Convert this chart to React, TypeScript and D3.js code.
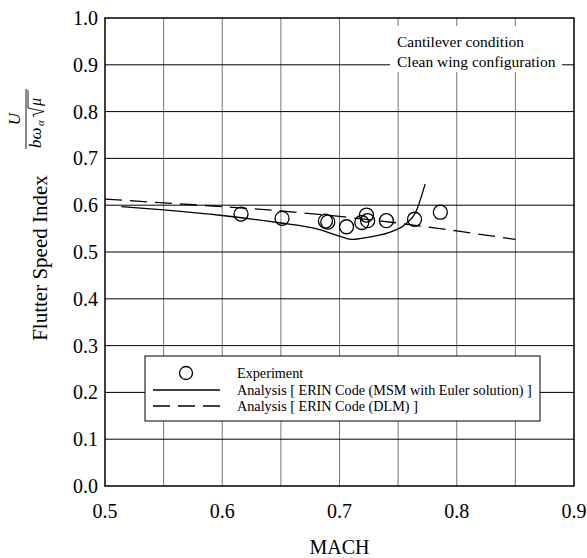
import React from "react";
import * as d3 from "d3";

const xTicks = [0.5, 0.6, 0.7, 0.8, 0.9];
const xGrid = [0.55, 0.6, 0.65, 0.7, 0.75, 0.8, 0.85];
const yTicks = [0.0, 0.1, 0.2, 0.3, 0.4, 0.5, 0.6, 0.7, 0.8, 0.9, 1.0];

const expMach = [0.616, 0.651, 0.688, 0.690, 0.706, 0.719, 0.723, 0.724, 0.740, 0.764, 0.786];
const expIndex = [0.581, 0.572, 0.566, 0.564, 0.554, 0.563, 0.579, 0.567, 0.567, 0.570, 0.585];

const msmMach = [0.514, 0.55, 0.6, 0.65, 0.68, 0.7, 0.71, 0.725, 0.745, 0.757, 0.765, 0.773];
const msmIndex = [0.597, 0.590, 0.578, 0.562, 0.550, 0.534, 0.527, 0.532, 0.544, 0.561, 0.585, 0.645];

const dlmMach = [0.5, 0.6, 0.65, 0.7, 0.75, 0.8, 0.85];
const dlmIndex = [0.613, 0.597, 0.588, 0.576, 0.562, 0.545, 0.527];

const legendLabels = [
  "Experiment",
  "Analysis [ ERIN Code (MSM with Euler solution) ]",
  "Analysis [ ERIN Code (DLM) ]",
];
const noteLines = ["Cantilever condition", "Clean wing configuration"];

const W = 587, H = 558;
const L = 105, R = 574, T = 18, B = 486;
const FF = "Liberation Serif, DejaVu Serif, serif";

export default function App() {
  const x = d3.scaleLinear().domain([0.5, 0.9]).range([L, R]);
  const y = d3.scaleLinear().domain([0, 1]).range([B, T]);
  const line = d3.line<[number, number]>().x(d => x(d[0])).y(d => y(d[1]));
  const smooth = d3.line<[number, number]>().x(d => x(d[0])).y(d => y(d[1])).curve(d3.curveMonotoneX);
  const msm = msmMach.map((m, i) => [m, msmIndex[i]] as [number, number]);
  const dlm = dlmMach.map((m, i) => [m, dlmIndex[i]] as [number, number]);

  return (
    <svg width={W} height={H} style={{ position: "absolute", left: 0, top: 0, background: "#fff" }} fontFamily={FF}>
      {xGrid.map(v => (
        <line key={"xg" + v} x1={x(v)} x2={x(v)} y1={T} y2={B} stroke="#777" strokeWidth={1} />
      ))}
      {yTicks.slice(1, -1).map(v => (
        <line key={"yg" + v} x1={L} x2={R} y1={y(v)} y2={y(v)} stroke="#000" strokeWidth={1} />
      ))}
      <rect x={L} y={T} width={R - L} height={B - T} fill="none" stroke="#000" strokeWidth={1.5} />

      <rect x={390} y={26} width={172} height={46} fill="#fff" />
      {noteLines.map((t, i) => (
        <text key={t} x={397} y={47 + i * 20} fontSize={15.5} fontFamily={FF}>{t}</text>
      ))}

      <path d={line(dlm) || ""} fill="none" stroke="#000" strokeWidth={1.3} strokeDasharray="17,8" />
      <path d={smooth(msm) || ""} fill="none" stroke="#000" strokeWidth={1.3} />
      {expMach.map((m, i) => (
        <circle key={"e" + i} cx={x(m)} cy={y(expIndex[i])} r={7} fill="none" stroke="#000" strokeWidth={1.3} />
      ))}

      <rect x={145} y={356} width={395} height={65} fill="#fff" stroke="#000" strokeWidth={1} />
      <circle cx={186} cy={373} r={6.5} fill="none" stroke="#000" strokeWidth={1.3} />
      <line x1={153} x2={220} y1={390} y2={390} stroke="#000" strokeWidth={1.3} />
      <line x1={153} x2={220} y1={406} y2={406} stroke="#000" strokeWidth={1.3} strokeDasharray="17,8" />
      {legendLabels.map((t, i) => (
        <text key={t} x={237} y={378 + i * 16.5} fontSize={14.2} fontFamily={FF}>{t}</text>
      ))}

      {yTicks.map(v => (
        <text key={"yt" + v} x={98} y={y(v) + 7} fontSize={20} textAnchor="end" fontFamily={FF}>{v.toFixed(1)}</text>
      ))}
      {xTicks.map(v => (
        <text key={"xt" + v} x={x(v)} y={518} fontSize={20} textAnchor="middle" fontFamily={FF}>{v.toFixed(1)}</text>
      ))}
      <text x={x(0.7)} y={554} fontSize={20} textAnchor="middle" fontFamily={FF}>MACH</text>

      <text transform="translate(47,258) rotate(-90)" fontSize={21} textAnchor="middle" fontFamily={FF}>Flutter Speed Index</text>
      <g transform="translate(26,119) rotate(-90)" fontFamily={FF}>
        <text x={0} y={-6} fontSize={17} fontStyle="italic" textAnchor="middle">U</text>
        <line x1={-30} x2={30} y1={0} y2={0} stroke="#000" strokeWidth={0.9} />
        <text x={-29} y={15} fontSize={17} fontStyle="italic">bω</text>
        <text x={-7} y={18} fontSize={11} fontStyle="italic">α</text>
        <path d="M2,8 L4.5,7 L7.5,18 L11,2 L29,2" fill="none" stroke="#000" strokeWidth={0.9} />
        <text x={13} y={15} fontSize={16} fontStyle="italic">μ</text>
      </g>
    </svg>
  );
}
